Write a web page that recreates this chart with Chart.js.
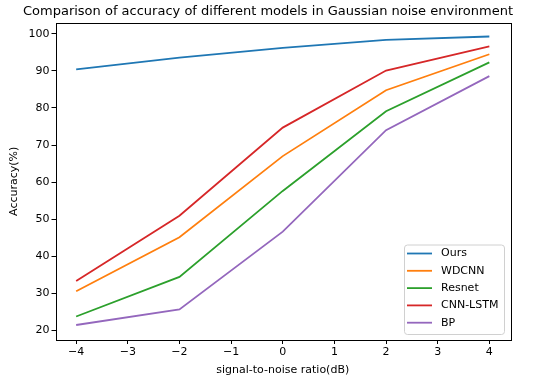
<!DOCTYPE html>
<html>
<head>
<meta charset="utf-8">
<script src="https://cdn.jsdelivr.net/npm/chart.js@4/dist/chart.umd.min.js"></script>
<style>
  html, body { margin: 0; padding: 0; background: #fff; }
  #wrap { width: 550px; height: 383px; }
</style>
</head>
<body>
<div id="wrap"><canvas id="myChart"></canvas></div>
<script>
const snr = [-4, -2, 0, 2, 4];
const ours = [90.4, 93.6, 96.2, 98.4, 99.3];
const wdcnn = [30.5, 45.1, 67.0, 84.8, 94.5];
const resnet = [23.7, 34.4, 57.6, 79.1, 92.3];
const cnnLstm = [33.3, 50.9, 74.7, 90.1, 96.6];
const bp = [21.4, 25.6, 46.6, 74.0, 88.6];
const xTicks = [-4, -3, -2, -1, 0, 1, 2, 3, 4];
const yTicks = [20, 30, 40, 50, 60, 70, 80, 90, 100];
const chartTitle = 'Comparison of accuracy of different models in Gaussian noise environment';

const fontFamily = "'DejaVu Sans', sans-serif";
const ctx = document.getElementById('myChart').getContext('2d');

function series(label, values, color) {
  return {
    label,
    data: snr.map((x, i) => ({ x, y: values[i] })),
    borderColor: color,
    backgroundColor: color,
    borderWidth: 1.8,
    pointRadius: 0,
    tension: 0,
    fill: false
  };
}

// title, frame around the plot + matplotlib style legend in lower right
const framePlugin = {
  id: 'frame',
  afterDraw(chart) {
    const a = chart.chartArea;
    const c = chart.ctx;
    c.save();
    c.fillStyle = '#000';
    c.font = '13px ' + fontFamily;
    c.textAlign = 'center';
    c.textBaseline = 'middle';
    c.fillText(chartTitle, 268, 12);
    c.textAlign = 'left';

    c.strokeStyle = '#000';
    c.lineWidth = 1;
    c.strokeRect(Math.round(a.left) + 0.5, Math.round(a.top) + 0.5,
      Math.round(a.right - a.left), Math.round(a.bottom - a.top));

    const sets = chart.data.datasets;
    const boxW = 100, rowH = 17.3;
    const boxH = rowH * sets.length + 3;
    const bx = a.right - 6 - boxW, by = a.bottom - 6 - boxH;
    c.fillStyle = 'rgba(255,255,255,0.8)';
    c.strokeStyle = '#d0d0d0';
    c.beginPath();
    c.roundRect(bx + 0.5, by + 0.5, boxW, boxH, 3);
    c.fill();
    c.stroke();
    c.font = '11px ' + fontFamily;
    sets.forEach((ds, i) => {
      const y = by + 9 + i * rowH;
      c.strokeStyle = ds.borderColor;
      c.lineWidth = 1.8;
      c.beginPath();
      c.moveTo(bx + 3, y);
      c.lineTo(bx + 28, y);
      c.stroke();
      c.fillStyle = '#000';
      c.fillText(ds.label, bx + 37, y);
    });
    c.restore();
  }
};

new Chart(ctx, {
  type: 'line',
  data: {
    datasets: [
      series('Ours', ours, '#1f77b4'),
      series('WDCNN', wdcnn, '#ff7f0e'),
      series('Resnet', resnet, '#2ca02c'),
      series('CNN-LSTM', cnnLstm, '#d62728'),
      series('BP', bp, '#9467bd')
    ]
  },
  options: {
    responsive: true,
    maintainAspectRatio: false,
    animation: false,
    layout: { padding: { left: 0, right: 40, top: 22.6, bottom: 0 } },
    plugins: {
      legend: { display: false },
      tooltip: { enabled: false },
      title: { display: false }
    },
    scales: {
      x: {
        type: 'linear',
        min: -4.4,
        max: 4.4,
        afterBuildTicks: s => { s.ticks = xTicks.map(v => ({ value: v })); },
        afterFit: s => { s.height = 43; },
        grid: { drawOnChartArea: false, drawTicks: true, tickLength: 4, color: '#000' },
        border: { display: false },
        ticks: {
          color: '#000',
          padding: 2,
          maxRotation: 0,
          font: { family: fontFamily, size: 11 },
          callback: v => String(v).replace('-', '\u2212')
        },
        title: {
          display: true,
          text: 'signal-to-noise ratio(dB)',
          color: '#000',
          font: { family: fontFamily, size: 11 },
          padding: { top: 1, bottom: 6 }
        }
      },
      y: {
        min: 17.35,
        max: 103.05,
        afterBuildTicks: s => { s.ticks = yTicks.map(v => ({ value: v })); },
        afterFit: s => { s.width = 55.5; },
        grid: { drawOnChartArea: false, drawTicks: true, tickLength: 4, color: '#000' },
        border: { display: false },
        ticks: {
          color: '#000',
          padding: 2,
          font: { family: fontFamily, size: 11 }
        },
        title: {
          display: true,
          text: 'Accuracy(%)',
          color: '#000',
          font: { family: fontFamily, size: 11 },
          padding: { top: 8, bottom: 0 }
        }
      }
    }
  },
  plugins: [framePlugin]
});
</script>
</body>
</html>
